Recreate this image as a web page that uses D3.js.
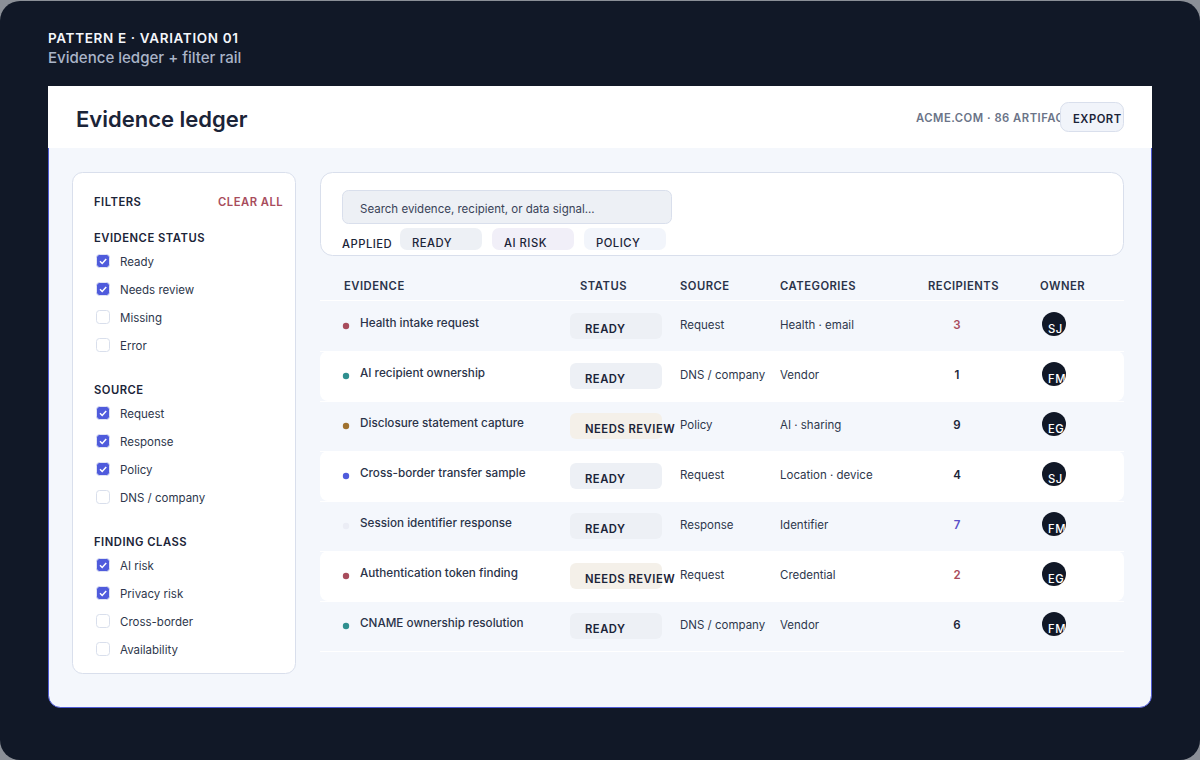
<!DOCTYPE html>
<html><head><meta charset="utf-8">
<script src="https://cdnjs.cloudflare.com/ajax/libs/d3/7.8.5/d3.min.js"></script>
<style>html,body{margin:0;padding:0;background:#fff;overflow:hidden}svg{display:block}text{font-family:Inter,sans-serif}</style>
</head><body><svg id="c" width="1200" height="760"></svg>
<script>
const evidence=["Health intake request","AI recipient ownership","Disclosure statement capture","Cross-border transfer sample","Session identifier response","Authentication token finding","CNAME ownership resolution"];
const statuses=["READY","READY","NEEDS REVIEW","READY","READY","NEEDS REVIEW","READY"];
const sources=["Request","DNS / company","Policy","Request","Response","Request","DNS / company"];
const categories=["Health · email","Vendor","AI · sharing","Location · device","Identifier","Credential","Vendor"];
const recipients=[3,1,9,4,7,2,6];
const owners=["SJ","FM","EG","SJ","FM","EG","FM"];
const dotColors=["#a84c5c","#2f8f8f","#a0722f","#4f5bdc","#ebedf5","#a84c5c","#2f8f8f"];
const recipColors=["#a84c5c","#1b2438","#1b2438","#1b2438","#5a50c8","#a84c5c","#1b2438"];
const columns=["EVIDENCE","STATUS","SOURCE","CATEGORIES","RECIPIENTS","OWNER"];
const columnX=[344,580,680,780,928,1040];
const filterGroups=["EVIDENCE STATUS","SOURCE","FINDING CLASS"];
const filterItems=[["Ready","Needs review","Missing","Error"],["Request","Response","Policy","DNS / company"],["AI risk","Privacy risk","Cross-border","Availability"]];
const filterChecked=[[1,1,0,0],[1,1,1,0],[1,1,0,0]];
const chips=["READY","AI RISK","POLICY"];
const chipFill=["#edf0f5","#f1eff8","#f2f5fb"];

const ink="#1b2438", svg=d3.select("#c");
const capSize=11.25, capGap=0.5;
const T=(g,x,y,s,size,weight,fill,ls)=>g.append("text").attr("x",x).attr("y",y).text(s).attr("font-size",size).attr("font-weight",weight).attr("fill",fill).attr("letter-spacing",ls||0);
const R=(g,x,y,w,h,r,fill,stroke)=>g.append("rect").attr("x",x).attr("y",y).attr("width",w).attr("height",h).attr("rx",r).attr("fill",fill).attr("stroke",stroke||"none");

R(svg,0,0,1200,760,0,"#8b8f97");
R(svg,0,1,1200,759,20,"#111827");
T(svg,48,43,"PATTERN E · VARIATION 01",13.5,600,"#f4f6fb",0.65);
T(svg,48,63,"Evidence ledger + filter rail",15.05,500,"#aab4c8");

// card body
svg.append("path").attr("d","M48.5 148V695.5a12 12 0 0 0 12 12H1139.5a12 12 0 0 0 12-12V148").attr("fill","#f4f7fc").attr("stroke","#4f5bd5");
R(svg,48,86,1104,62,0,"#ffffff");
T(svg,76,127,"Evidence ledger",22,600,ink);
T(svg,916,122,"ACME.COM · 86 ARTIFACTS",capSize,600,"#6b7488",capGap);
R(svg,1060.5,102.5,63,29,8,"#f1f4fa","#d9dfec");
T(svg,1073,123,"EXPORT",capSize,600,ink,capGap);

// filter rail
R(svg,72.5,172.5,223,501,10,"#ffffff","#d9dfec");
T(svg,94,206,"FILTERS",capSize,600,ink,capGap);
T(svg,218,206,"CLEAR ALL",capSize,600,"#a84c5c",capGap);
const groupY=d3.scalePoint().domain(d3.range(filterGroups.length)).range([242,546]);
const itemY=d3.scalePoint().domain(d3.range(4)).range([20,104]);
filterGroups.forEach((name,gi)=>{
  const y0=groupY(gi);
  T(svg,94,y0,name,capSize,600,ink,capGap);
  filterItems[gi].forEach((it,i)=>{
    const cy=y0+itemY(i);
    const on=filterChecked[gi][i];
    R(svg,96.5,cy-7.5,13,13,3,on?"#4f5bdc":"#ffffff",on?"#e0e4f4":"#d9dfec");
    if(on) svg.append("path").attr("d",d3.line()([[100,cy-0.7],[102.2,cy+1.5],[106.2,cy-3]])).attr("fill","none").attr("stroke","#fff").attr("stroke-width",1.5);
    T(svg,120,cy+4,it,11.5,400,"#2e374c");
  });
});

// search panel
R(svg,320.5,172.5,803,83,12,"#ffffff","#d9dfec");
R(svg,342.5,190.5,329,33,6,"#edf0f5","#d9dfec");
T(svg,360,213,"Search evidence, recipient, or data signal...",11.5,400,"#3a4358");
T(svg,342,248,"APPLIED",capSize,500,ink,capGap);
const chipX=d3.scalePoint().domain(d3.range(chips.length)).range([400,584]);
chips.forEach((c,i)=>{R(svg,chipX(i),228,82,22,7,chipFill[i]);T(svg,chipX(i)+12,247,c,capSize,500,ink,capGap);});

// table
columns.forEach((c,i)=>T(svg,columnX[i],290,c,capSize,600,"#2a3349",capGap));
const rowY=d3.scaleBand().domain(d3.range(evidence.length)).range([301,651]);
const lineAt=y=>svg.append("line").attr("x1",320).attr("x2",1124).attr("y1",y).attr("y2",y).attr("stroke","#ffffff");
lineAt(300.5);
svg.append("defs");
evidence.forEach((name,i)=>{
  const y=rowY(i), review=statuses[i]!=="READY";
  if(i%2==1) R(svg,320,y,804,50,8,"#ffffff");
  lineAt(y+50.5);
  svg.append("circle").attr("cx",346).attr("cy",y+25).attr("r",3.2).attr("fill",dotColors[i]);
  T(svg,360,y+26,name,11.7,500,"#2a3349");
  R(svg,570,y+12,92,26,6,review?"#f4f0e9":"#edf0f5");
  T(svg,585,y+32,statuses[i],capSize,600,ink,capGap);
  T(svg,680,y+28,sources[i],11.5,400,"#2e374c");
  T(svg,780,y+28,categories[i],11.5,400,"#2e374c");
  T(svg,957,y+28,recipients[i],11.5,600,recipColors[i]).attr("text-anchor","middle");
  const id="av"+i;
  svg.select("defs").append("clipPath").attr("id",id).append("circle").attr("cx",1054).attr("cy",y+23).attr("r",12);
  svg.append("circle").attr("cx",1054).attr("cy",y+23).attr("r",12).attr("fill","#111827");
  T(svg,1048,y+31.5,owners[i],capSize,500,"#ffffff",capGap).attr("clip-path",`url(#${id})`);
});
</script></body></html>
